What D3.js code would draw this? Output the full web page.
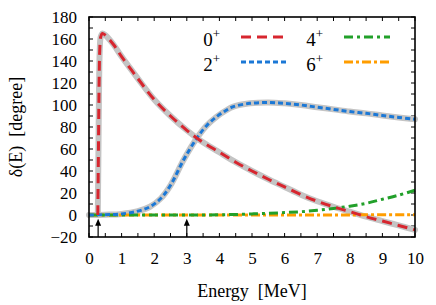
<!DOCTYPE html>
<html><head><meta charset="utf-8">
<script src="https://cdn.jsdelivr.net/npm/d3@7"></script>
<style>body{margin:0;background:#fff}svg{display:block}</style>
</head><body><svg id="c" width="436" height="305" font-family="Liberation Serif, Times New Roman, serif"></svg>
<script>
// Data
const energy0 = [0.27,0.29,0.31,0.33,0.36,0.41,0.5,0.75,1,1.5,2,2.5,3,3.4,4,4.5,5,5.5,6,6.5,7,7.5,8,8.5,9,9.5,10];
const delta0  = [0,60,120,150,162,165,163.5,155,144,124,105,90,77,68,57,48,40,32.5,25.5,18.5,12.5,7.5,3,-1.5,-5.5,-9.5,-13.5];
const energy2 = [0,0.5,1,1.5,1.87,2.2,2.5,2.9,3.3,3.6,3.92,4.2,4.43,4.94,5.5,6,6.5,7,7.5,8,8.5,9,9.5,10];
const delta2  = [0,0.3,1,3.5,7.5,15,27,50,69.5,81,89.5,95,98.5,101.5,102.3,101.5,100,98,96,94,92.4,90.5,88.7,87];
const energy4 = [0,1,2,3,4,4.5,5,5.5,6,6.5,7,7.5,8,8.5,9,9.5,10];
const delta4  = [0,0,0,0,0.2,0.5,1,1.5,2.2,3,4.3,6,8,10.6,14.3,18,22.5];
const energy6 = [0,2,4,6,8,10];
const delta6  = [0,0,0,0,0.1,0.2];
const seriesNames = ["0","2","4","6"];
const arrowEnergies = [0.28, 3.0];
const xTicks = [0,1,2,3,4,5,6,7,8,9,10];
const yTicks = [-20,0,20,40,60,80,100,120,140,160,180];

const FONT = "Liberation Serif, Times New Roman, serif";
const svg = d3.select("#c");
const L=89,R=415,T=17,B=237;
const x = d3.scaleLinear().domain([0,10]).range([L,R]);
const y = d3.scaleLinear().domain([-20,180]).range([B,T]);

const colors = {"0":"#d7262f","2":"#1b78d6","4":"#22a02a","6":"#ff9d00"};
const dashes = {"0":"10,6","2":"5,3","4":"9,4,3,4","6":"9,3,3,3"};
const series = {
  "0": energy0.map((e,i)=>[e,delta0[i]]),
  "2": energy2.map((e,i)=>[e,delta2[i]]),
  "4": energy4.map((e,i)=>[e,delta4[i]]),
  "6": energy6.map((e,i)=>[e,delta6[i]])
};

// inward ticks on all four sides
const gAx = svg.append("g");
const minorX = d3.range(0,10.01,0.5), minorY = d3.range(-20,180.01,10);
gAx.selectAll(".xb").data(minorX).join("line").attr("x1",d=>x(d)).attr("x2",d=>x(d)).attr("y1",B).attr("y2",B-4).attr("stroke","#000").attr("stroke-width",1);
gAx.selectAll(".xt").data(minorX).join("line").attr("x1",d=>x(d)).attr("x2",d=>x(d)).attr("y1",T).attr("y2",T+4).attr("stroke","#000").attr("stroke-width",1);
gAx.selectAll(".yl").data(minorY).join("line").attr("x1",L).attr("x2",L+4).attr("y1",d=>y(d)).attr("y2",d=>y(d)).attr("stroke","#000").attr("stroke-width",1);
gAx.selectAll(".yr").data(minorY).join("line").attr("x1",R).attr("x2",R-4).attr("y1",d=>y(d)).attr("y2",d=>y(d)).attr("stroke","#000").attr("stroke-width",1);

// tick labels via d3 axes
const xAxis = d3.axisBottom(x).tickValues(xTicks).tickSize(0).tickPadding(15).tickFormat(d3.format("d"));
const gx = svg.append("g").attr("transform",`translate(0,${B})`).call(xAxis);
gx.select(".domain").remove();
gx.attr("font-family",FONT).attr("font-size",17);
gx.selectAll("text").attr("fill","#000");
const yAxis = d3.axisLeft(y).tickValues(yTicks).tickSize(0).tickPadding(12).tickFormat(d3.format("d"));
const gy = svg.append("g").attr("transform",`translate(${L},0)`).call(yAxis);
gy.select(".domain").remove();
gy.attr("font-family",FONT).attr("font-size",17);
gy.selectAll("text").attr("fill","#000").attr("dy","0.34em");

// curves
const line = d3.line().x(d=>x(d[0])).y(d=>y(d[1])).curve(d3.curveCatmullRom.alpha(0.5));
const plot = svg.append("g");
["0","2"].forEach(k=>{
  plot.append("path").attr("d",line(series[k])).attr("fill","none").attr("stroke","#c4c4c4").attr("stroke-width",6).attr("stroke-linejoin","round").attr("stroke-linecap","round");
});
["6","4","2","0"].forEach(k=>{
  plot.append("path").attr("d",line(series[k])).attr("fill","none").attr("stroke",colors[k]).attr("stroke-width",3).attr("stroke-dasharray",dashes[k]);
});

// arrows
const tipY = y(-3.5);
svg.selectAll(".arr").data(arrowEnergies).join("line").attr("x1",d=>x(d)).attr("x2",d=>x(d)).attr("y1",B).attr("y2",tipY+5).attr("stroke","#000").attr("stroke-width",1.2);
svg.selectAll(".arh").data(arrowEnergies).join("path").attr("d",d=>`M${x(d)},${tipY} L${x(d)-3},${tipY+7} L${x(d)+3},${tipY+7} Z`).attr("fill","#000");

// frame
svg.append("rect").attr("x",L).attr("y",T).attr("width",R-L).attr("height",B-T).attr("fill","none").attr("stroke","#000").attr("stroke-width",1.6);

// legend
const legPos = {"0":[220,37],"2":[220,62],"4":[323,37],"6":[323,62]};
seriesNames.forEach(k=>{
  const [lx,ly]=legPos[k];
  const t = svg.append("text").attr("x",lx).attr("y",ly+9).attr("text-anchor","end").attr("font-size",19).attr("font-family",FONT);
  t.append("tspan").text(k);
  t.append("tspan").attr("dy",-8).attr("font-size",13).text("+");
  svg.append("line").attr("x1",lx+21).attr("x2",lx+67).attr("y1",ly).attr("y2",ly).attr("stroke",colors[k]).attr("stroke-width",3).attr("stroke-dasharray",dashes[k]);
});

// axis titles
svg.append("text").attr("x",(L+R)/2).attr("y",297).attr("text-anchor","middle").attr("font-size",18).attr("font-family",FONT).style("white-space","pre").text("Energy  [MeV]");
svg.append("text").attr("transform",`translate(22,${(T+B)/2}) rotate(-90)`).attr("text-anchor","middle").attr("font-size",18).attr("font-family",FONT).style("white-space","pre").text("δ(E)  [degree]");
</script></body></html>
